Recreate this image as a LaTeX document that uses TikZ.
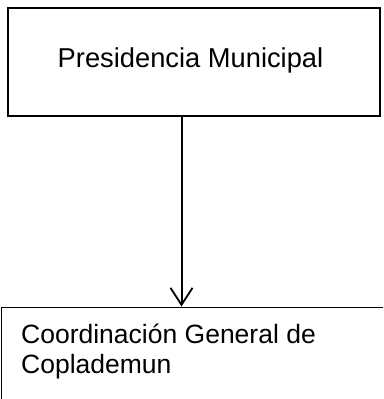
\documentclass[tikz,border=0pt]{standalone}
\usepackage{fontspec}
\setmainfont{Liberation Sans}
\usetikzlibrary{arrows.meta}
\begin{document}
\begin{tikzpicture}[x=1pt,y=-1pt,
  topbox/.style={draw=black, line width=2pt, minimum width=372pt, minimum height=108.5pt, inner sep=0pt},
  lowbox/.style={draw=black, line width=1.4pt, anchor=north west, minimum width=420pt, minimum height=140pt, inner sep=0pt},
  toplabel/.style={font=\fontsize{27.3}{30}\selectfont, inner sep=0pt},
  label/.style={font=\fontsize{26.5}{29.5}\selectfont, inner sep=0pt},
  arr/.style={line width=2pt, -{Straight Barb[length=17pt,width=22pt,line width=1.8pt]}}]
\useasboundingbox (0,0) rectangle (383,399);
\begin{scope}
\clip (0,0) rectangle (383,399);
\node[topbox] (pres) at (193.5,61.75) {};
\node[toplabel, anchor=base] (prestext) at (190.5,67) {Presidencia Municipal};
\node[lowbox] (coord) at (0.7,306.5) {};
\node[label, anchor=base west, align=left] (coordtext) at (21,373) {Coordinación General de\\Coplademun};
\coordinate (ax) at (181.5,0);
\draw[arr] (pres.south -| ax) -- (coord.north -| ax);
\end{scope}
\end{tikzpicture}
\end{document}
